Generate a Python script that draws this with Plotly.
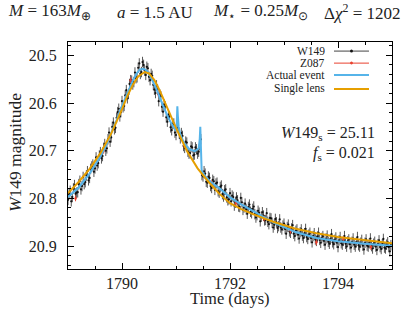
import plotly.graph_objects as go

# ---------------- data ----------------
# W149 photometry, two interleaved cadence sets
w149_time_a = [
    1789.00, 1789.04, 1789.08, 1789.12, 1789.16, 1789.20, 1789.24, 1789.28, 1789.32, 1789.36,
    1789.40, 1789.44, 1789.48, 1789.52, 1789.56, 1789.60, 1789.64, 1789.68, 1789.72, 1789.76,
    1789.80, 1789.84, 1789.88, 1789.92, 1789.96, 1790.00, 1790.04, 1790.08, 1790.12, 1790.16,
    1790.20, 1790.24, 1790.28, 1790.32, 1790.36, 1790.40, 1790.44, 1790.48, 1790.52, 1790.56,
    1790.60, 1790.64, 1790.68, 1790.72, 1790.76, 1790.80, 1790.84, 1790.88, 1790.92, 1790.96,
    1791.00, 1791.04, 1791.08, 1791.12, 1791.16, 1791.20, 1791.24, 1791.28, 1791.32, 1791.36,
    1791.40, 1791.44, 1791.48, 1791.52, 1791.56, 1791.60, 1791.64, 1791.68, 1791.72, 1791.76,
    1791.80, 1791.84, 1791.88, 1791.92, 1791.96, 1792.00, 1792.04, 1792.08, 1792.12, 1792.16,
    1792.20, 1792.24, 1792.28, 1792.32, 1792.36, 1792.40, 1792.44, 1792.48, 1792.52, 1792.56,
    1792.60, 1792.64, 1792.68, 1792.72, 1792.76, 1792.80, 1792.84, 1792.88, 1792.92, 1792.96,
    1793.00, 1793.04, 1793.08, 1793.12, 1793.16, 1793.20, 1793.24, 1793.28, 1793.32, 1793.36,
    1793.40, 1793.44, 1793.48, 1793.52, 1793.56, 1793.60, 1793.64, 1793.68, 1793.72, 1793.76,
    1793.80, 1793.84, 1793.88, 1793.92, 1793.96, 1794.00, 1794.04, 1794.08, 1794.12, 1794.16,
    1794.20, 1794.24, 1794.28, 1794.32, 1794.36, 1794.40, 1794.44, 1794.48, 1794.52, 1794.56,
    1794.60, 1794.64, 1794.68, 1794.72, 1794.76, 1794.80, 1794.84, 1794.88, 1794.92, 1794.96,
]
w149_mag_a = [
    20.803, 20.784, 20.797, 20.772, 20.788, 20.770, 20.781, 20.755, 20.766, 20.743,
    20.757, 20.733, 20.744, 20.714, 20.726, 20.703, 20.711, 20.686, 20.695, 20.662,
    20.672, 20.641, 20.652, 20.619, 20.628, 20.596, 20.606, 20.573, 20.581, 20.552,
    20.561, 20.536, 20.546, 20.517, 20.535, 20.520, 20.541, 20.527, 20.552, 20.543,
    20.572, 20.563, 20.596, 20.586, 20.618, 20.607, 20.639, 20.628, 20.657, 20.643,
    20.667, 20.652, 20.674, 20.669, 20.694, 20.683, 20.706, 20.691, 20.710, 20.693,
    20.706, 20.688, 20.751, 20.743, 20.765, 20.754, 20.774, 20.761, 20.782, 20.767,
    20.788, 20.773, 20.796, 20.781, 20.804, 20.789, 20.794, 20.815, 20.798, 20.817,
    20.799, 20.824, 20.811, 20.832, 20.813, 20.831, 20.817, 20.840, 20.826, 20.848,
    20.829, 20.846, 20.831, 20.854, 20.842, 20.861, 20.843, 20.862, 20.844, 20.865,
    20.853, 20.874, 20.855, 20.872, 20.856, 20.879, 20.865, 20.884, 20.865, 20.883,
    20.864, 20.885, 20.872, 20.892, 20.873, 20.889, 20.872, 20.893, 20.879, 20.897,
    20.878, 20.895, 20.875, 20.896, 20.882, 20.902, 20.881, 20.897, 20.879, 20.901,
    20.886, 20.903, 20.884, 20.901, 20.881, 20.901, 20.887, 20.907, 20.886, 20.901,
    20.884, 20.905, 20.891, 20.908, 20.888, 20.906, 20.885, 20.905, 20.892, 20.911,
]
w149_time_b = [
    1789.02, 1789.06, 1789.10, 1789.14, 1789.18, 1789.22, 1789.26, 1789.30, 1789.34, 1789.38,
    1789.42, 1789.46, 1789.50, 1789.54, 1789.58, 1789.62, 1789.66, 1789.70, 1789.74, 1789.78,
    1789.82, 1789.86, 1789.90, 1789.94, 1789.98, 1790.02, 1790.06, 1790.10, 1790.14, 1790.18,
    1790.22, 1790.26, 1790.30, 1790.34, 1790.38, 1790.42, 1790.46, 1790.50, 1790.54, 1790.58,
    1790.62, 1790.66, 1790.70, 1790.74, 1790.78, 1790.82, 1790.86, 1790.90, 1790.94, 1790.98,
    1791.02, 1791.06, 1791.10, 1791.14, 1791.18, 1791.22, 1791.26, 1791.30, 1791.34, 1791.38,
    1791.42, 1791.46, 1791.50, 1791.54, 1791.58, 1791.62, 1791.66, 1791.70, 1791.74, 1791.78,
    1791.82, 1791.86, 1791.90, 1791.94, 1791.98, 1792.02, 1792.06, 1792.10, 1792.14, 1792.18,
    1792.22, 1792.26, 1792.30, 1792.34, 1792.38, 1792.42, 1792.46, 1792.50, 1792.54, 1792.58,
    1792.62, 1792.66, 1792.70, 1792.74, 1792.78, 1792.82, 1792.86, 1792.90, 1792.94, 1792.98,
    1793.02, 1793.06, 1793.10, 1793.14, 1793.18, 1793.22, 1793.26, 1793.30, 1793.34, 1793.38,
    1793.42, 1793.46, 1793.50, 1793.54, 1793.58, 1793.62, 1793.66, 1793.70, 1793.74, 1793.78,
    1793.82, 1793.86, 1793.90, 1793.94, 1793.98, 1794.02, 1794.06, 1794.10, 1794.14, 1794.18,
    1794.22, 1794.26, 1794.30, 1794.34, 1794.38, 1794.42, 1794.46, 1794.50, 1794.54, 1794.58,
    1794.62, 1794.66, 1794.70, 1794.74, 1794.78, 1794.82, 1794.86, 1794.90, 1794.94, 1794.98,
]
w149_mag_b = [
    20.791, 20.806, 20.779, 20.790, 20.787, 20.763, 20.774, 20.770, 20.752, 20.762,
    20.738, 20.729, 20.737, 20.731, 20.710, 20.716, 20.694, 20.700, 20.676, 20.681,
    20.650, 20.655, 20.631, 20.612, 20.619, 20.609, 20.584, 20.590, 20.560, 20.553,
    20.556, 20.548, 20.526, 20.539, 20.514, 20.532, 20.524, 20.545, 20.539, 20.562,
    20.579, 20.572, 20.582, 20.608, 20.603, 20.630, 20.624, 20.651, 20.644, 20.662,
    20.641, 20.664, 20.663, 20.690, 20.681, 20.702, 20.705, 20.693, 20.708, 20.697,
    20.702, 20.676, 20.754, 20.748, 20.767, 20.757, 20.778, 20.764, 20.769, 20.785,
    20.776, 20.791, 20.783, 20.798, 20.802, 20.806, 20.797, 20.809, 20.804, 20.818,
    20.808, 20.819, 20.823, 20.818, 20.828, 20.822, 20.833, 20.835, 20.830, 20.838,
    20.836, 20.845, 20.849, 20.841, 20.851, 20.855, 20.850, 20.858, 20.861, 20.857,
    20.864, 20.860, 20.869, 20.863, 20.874, 20.868, 20.876, 20.871, 20.878, 20.873,
    20.881, 20.876, 20.883, 20.879, 20.886, 20.880, 20.887, 20.883, 20.889, 20.884,
    20.891, 20.886, 20.892, 20.887, 20.893, 20.888, 20.894, 20.889, 20.895, 20.890,
    20.896, 20.891, 20.897, 20.892, 20.898, 20.893, 20.899, 20.893, 20.899, 20.894,
    20.900, 20.895, 20.901, 20.896, 20.902, 20.896, 20.903, 20.897, 20.902, 20.898,
]
w149_time = w149_time_a + w149_time_b
w149_mag = w149_mag_a + w149_mag_b
w149_err = 0.011

z087_time = [1789.14, 1789.66, 1790.16, 1790.67, 1791.15, 1791.66, 1792.11, 1792.63, 1793.12, 1793.60, 1794.10, 1794.61]
z087_mag = [20.800, 20.700, 20.552, 20.580, 20.688, 20.768, 20.810, 20.842, 20.868, 20.892, 20.885, 20.902]
z087_err = 0.006

actual_time = [
    1789.0, 1789.2, 1789.4, 1789.6, 1789.7, 1789.8, 1789.9, 1790.0, 1790.1, 1790.2,
    1790.27, 1790.33, 1790.4, 1790.47, 1790.55, 1790.65, 1790.75, 1790.85, 1790.95, 1791.0,
    1791.015, 1791.025, 1791.035, 1791.05, 1791.08, 1791.15, 1791.25, 1791.35, 1791.42, 1791.44,
    1791.45, 1791.46, 1791.475, 1791.55, 1791.65, 1791.8, 1792.0, 1792.2, 1792.4, 1792.6,
    1792.8, 1793.0, 1793.2, 1793.6, 1794.0, 1794.5, 1795.0,
]
actual_mag = [
    20.797, 20.777, 20.748, 20.712, 20.690, 20.664, 20.636, 20.606, 20.578, 20.553,
    20.538, 20.530, 20.528, 20.533, 20.549, 20.574, 20.603, 20.629, 20.650, 20.658,
    20.640, 20.607, 20.628, 20.650, 20.666, 20.684, 20.697, 20.701, 20.695, 20.675,
    20.650, 20.680, 20.742, 20.755, 20.766, 20.778, 20.798, 20.812, 20.825, 20.838,
    20.850, 20.860, 20.870, 20.883, 20.890, 20.895, 20.899,
]

single_time = [
    1789.0, 1789.2, 1789.4, 1789.6, 1789.8, 1789.9, 1790.0, 1790.1, 1790.2, 1790.3,
    1790.42, 1790.5, 1790.6, 1790.7, 1790.8, 1790.9, 1791.0, 1791.2, 1791.4, 1791.6,
    1791.8, 1792.0, 1792.2, 1792.4, 1792.8, 1793.2, 1793.6, 1794.0, 1794.5, 1795.0,
]
single_mag = [
    20.789, 20.765, 20.738, 20.705, 20.664, 20.640, 20.613, 20.585, 20.562, 20.544,
    20.535, 20.538, 20.552, 20.574, 20.600, 20.625, 20.652, 20.700, 20.737, 20.765,
    20.790, 20.810, 20.822, 20.832, 20.849, 20.863, 20.873, 20.881, 20.888, 20.894,
]

legend_labels = ["W149", "Z087", "Actual event", "Single lens"]
title_parts = [
    "<i>M</i> = 163<i>M</i><sub>⊕</sub>",
    "<i>a</i> = 1.5 AU",
    "<i>M</i><sub>⋆</sub> = 0.25<i>M</i><sub>⊙</sub>",
    "Δ<i>χ</i><sup>2</sup> = 1202",
]
title_part_x = [-0.0556, 0.2685, 0.5926, 0.9074]
x_title = "Time (days)"
y_title = "<i>W</i>149 magnitude"

# ---------------- style ----------------
FONT = "Liberation Serif"
C_W149 = "#111111"
C_W149_ERR = "#444444"
C_Z087 = "#e8412f"
C_ACT = "#56b4e9"
C_SGL = "#e69f00"

fig = go.Figure()
fig.add_trace(go.Scatter(
    x=w149_time, y=w149_mag, mode="markers",
    marker=dict(color=C_W149, size=2.2),
    error_y=dict(type="constant", value=w149_err, color=C_W149_ERR, thickness=0.9, width=0),
    showlegend=False))
fig.add_trace(go.Scatter(
    x=z087_time, y=z087_mag, mode="markers",
    marker=dict(color=C_Z087, size=2.5),
    error_y=dict(type="constant", value=z087_err, color=C_Z087, thickness=1, width=0),
    showlegend=False))
fig.add_trace(go.Scatter(
    x=actual_time, y=actual_mag, mode="lines",
    line=dict(color=C_ACT, width=2), showlegend=False))
fig.add_trace(go.Scatter(
    x=single_time, y=single_mag, mode="lines",
    line=dict(color=C_SGL, width=2), showlegend=False))

axis_common = dict(
    showline=True, linecolor="black", linewidth=1.3, mirror="allticks",
    ticks="inside", ticklen=6, tickwidth=1.2, tickcolor="black",
    showgrid=False, zeroline=False, automargin=False,
    tickfont=dict(family=FONT, size=16, color="#222"),
)

fig.update_xaxes(
    range=[1789.0, 1795.0], tick0=1790, dtick=2,
    minor=dict(ticks="inside", ticklen=3, tickwidth=1, tickcolor="black", dtick=0.5, tick0=1790),
    ticklabelstandoff=0,
    **axis_common)
fig.update_yaxes(
    range=[20.948, 20.472], tick0=20.5, dtick=0.1, tickformat=".1f",
    minor=dict(ticks="inside", ticklen=3, tickwidth=1, tickcolor="black", dtick=0.02, tick0=20.5),
    ticklabelstandoff=7,
    **axis_common)

annotations = []
shapes = []

# axis titles
annotations.append(dict(text=x_title, x=0.5, y=-0.130, xref="paper", yref="paper",
                        xanchor="center", yanchor="middle", showarrow=False,
                        font=dict(family=FONT, size=16.5, color="#222")))
annotations.append(dict(text=y_title, x=-0.1636, y=0.515, xref="paper", yref="paper",
                        xanchor="center", yanchor="middle", showarrow=False, textangle=-90,
                        font=dict(family=FONT, size=17.5, color="#222")))

# custom legend (text left, symbol right)
leg_y = [0.960, 0.907, 0.855, 0.793]
leg_colors = [C_W149_ERR, C_Z087, C_ACT, C_SGL]
leg_widths = [1, 1, 2, 2]
for lab, yy, col, wd in zip(legend_labels, leg_y, leg_colors, leg_widths):
    annotations.append(dict(text=lab, x=0.80, y=yy, xref="paper", yref="paper",
                            xanchor="right", yanchor="middle", showarrow=False,
                            font=dict(family=FONT, size=11.5, color="#222")))
    shapes.append(dict(type="line", xref="paper", yref="paper", x0=0.821, x1=0.929,
                       y0=yy, y1=yy, line=dict(color=col, width=wd)))
for yy, col in zip(leg_y[:2], [C_W149, C_Z087]):
    shapes.append(dict(type="circle", xref="paper", yref="paper",
                       x0=0.875 - 0.0045, x1=0.875 + 0.0045, y0=yy - 0.0066, y1=yy + 0.0066,
                       fillcolor=col, line=dict(width=0)))

annotations.append(dict(text="<i>W</i>149<sub>s</sub> = 25.11", x=0.955, y=0.597,
                        xref="paper", yref="paper", xanchor="right", yanchor="middle",
                        showarrow=False, font=dict(family=FONT, size=16, color="#222")))
annotations.append(dict(text="<i>f</i><sub>s</sub> = 0.021", x=0.955, y=0.508,
                        xref="paper", yref="paper", xanchor="right", yanchor="middle",
                        showarrow=False, font=dict(family=FONT, size=16, color="#222")))
for txt, xx in zip(title_parts, title_part_x):
    annotations.append(dict(text=txt, x=xx, y=1.132, xref="paper", yref="paper",
                            xanchor="center", yanchor="middle", showarrow=False,
                            font=dict(family=FONT, size=17, color="#222")))

fig.update_layout(
    width=407, height=310,
    margin=dict(l=68, r=15, t=42, b=41),
    plot_bgcolor="white", paper_bgcolor="white",
    annotations=annotations, shapes=shapes,
    showlegend=False,
)

fig.write_html("out.html", config={"displayModeBar": False},
               post_script="document.body.style.margin='0';")
